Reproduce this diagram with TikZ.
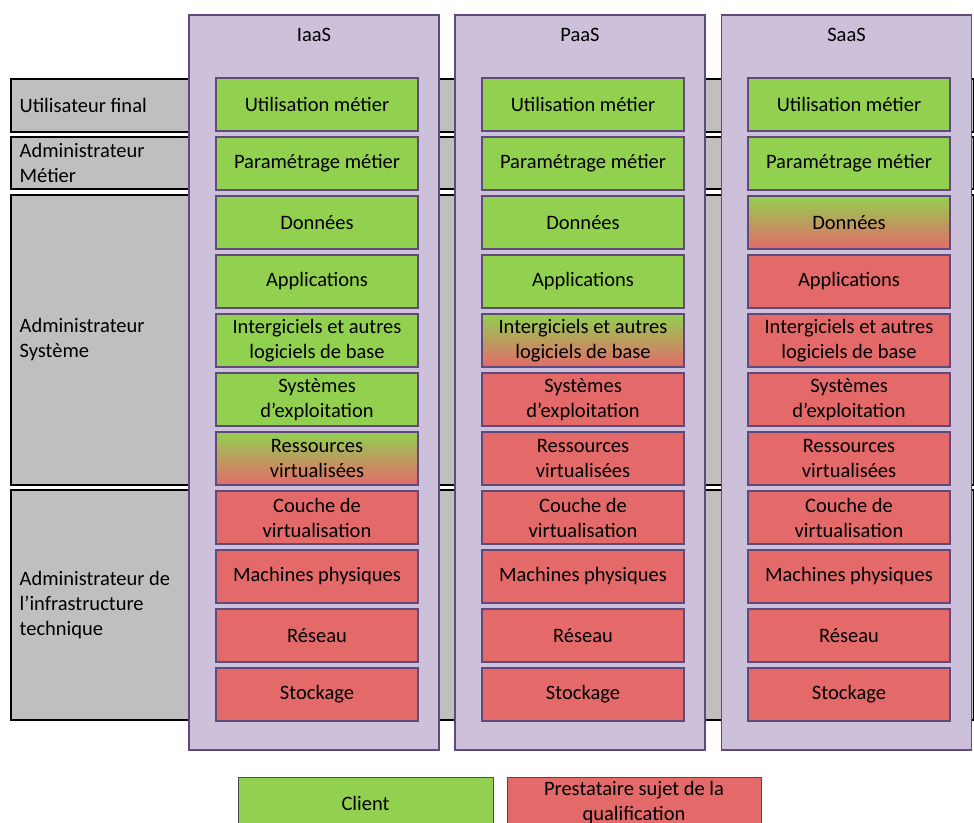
\documentclass[tikz,border=0pt]{standalone}
\usepackage{fontspec}
\setmainfont{Carlito}
\usepackage{tikz}
\usetikzlibrary{positioning}
\usepackage{xcolor}

\definecolor{cgreen}{RGB}{146,208,80}
\definecolor{cred}{RGB}{228,106,106}
\definecolor{lavender}{RGB}{204,192,218}
\definecolor{plum}{RGB}{96,74,123}
\definecolor{bandgrey}{RGB}{191,191,191}

\tikzset{
	txt/.style={font=\fontsize{20.5}{25}\selectfont},
	role/.style={draw=black, line width=1.8pt, fill=bandgrey, minimum width=963pt},
	rolelabel/.style={txt, anchor=west, align=left},
	offer/.style={draw=plum, line width=1.2pt, fill=lavender, minimum width=250pt, minimum height=735pt},
	layer/.style={txt, draw=plum, line width=1.5pt, minimum width=202pt, minimum height=53pt, align=center, inner sep=1pt},
	cli/.style={layer, fill=cgreen},
	pre/.style={layer, fill=cred},
	mix/.style={layer, top color=cgreen, bottom color=cred},
}

\begin{document}
\begin{tikzpicture}[x=1pt, y=-1pt, node distance=4.5pt]
	\useasboundingbox (0,0) rectangle (974,822);
	
	% roles
	\node[role, minimum height=53pt](r_user) at (492.5,105.5){};
	\node[role, minimum height=52pt](r_metier) at (492.5,163){};
	\node[role, minimum height=290pt](r_sys) at (492.5,340){};
	\node[role, minimum height=230pt](r_infra) at (492.5,605){};
	\node[rolelabel] at ([xshift=6pt]r_user.west){Utilisateur final};
	\node[rolelabel] at ([xshift=6pt]r_metier.west){Administrateur\\Métier};
	\node[rolelabel] at ([xshift=6pt]r_sys.west){Administrateur\\Système};
	\node[rolelabel] at ([xshift=6pt]r_infra.west){Administrateur de\\l’infrastructure\\technique};
	
	% offers
	\node[offer](iaas) at (314,382.5){};
	\node[offer](paas) at (580,382.5){};
	\node[offer](saas) at (846.5,382.5){};
	\node[txt] at ([yshift=-21pt]iaas.north){IaaS};
	\node[txt] at ([yshift=-21pt]paas.north){PaaS};
	\node[txt] at ([yshift=-21pt]saas.north){SaaS};
	
	% IaaS
	\node[cli](i_use) at (317,104.5){Utilisation métier};
	\node[cli, below = of i_use](i_param){Paramétrage métier};
	\node[cli, below = of i_param](i_data){Données};
	\node[cli, below = of i_data](i_app){Applications};
	\node[cli, below = of i_app](i_mid){Intergiciels et autres\\logiciels de base};
	\node[cli, below = of i_mid](i_os){Systèmes\\d’exploitation};
	\node[mix, below = of i_os](i_res){Ressources\\virtualisées};
	\node[pre, below = of i_res](i_virt){Couche de\\virtualisation};
	\node[pre, below = of i_virt](i_mach){Machines physiques};
	\node[pre, below = of i_mach](i_net){Réseau};
	\node[pre, below = of i_net](i_stor){Stockage};
	
	% PaaS
	\node[cli](p_use) at (583,104.5){Utilisation métier};
	\node[cli, below = of p_use](p_param){Paramétrage métier};
	\node[cli, below = of p_param](p_data){Données};
	\node[cli, below = of p_data](p_app){Applications};
	\node[mix, below = of p_app](p_mid){Intergiciels et autres\\logiciels de base};
	\node[pre, below = of p_mid](p_os){Systèmes\\d’exploitation};
	\node[pre, below = of p_os](p_res){Ressources\\virtualisées};
	\node[pre, below = of p_res](p_virt){Couche de\\virtualisation};
	\node[pre, below = of p_virt](p_mach){Machines physiques};
	\node[pre, below = of p_mach](p_net){Réseau};
	\node[pre, below = of p_net](p_stor){Stockage};
	
	% SaaS
	\node[cli](s_use) at (849,104.5){Utilisation métier};
	\node[cli, below = of s_use](s_param){Paramétrage métier};
	\node[mix, below = of s_param](s_data){Données};
	\node[pre, below = of s_data](s_app){Applications};
	\node[pre, below = of s_app](s_mid){Intergiciels et autres\\logiciels de base};
	\node[pre, below = of s_mid](s_os){Systèmes\\d’exploitation};
	\node[pre, below = of s_os](s_res){Ressources\\virtualisées};
	\node[pre, below = of s_res](s_virt){Couche de\\virtualisation};
	\node[pre, below = of s_virt](s_mach){Machines physiques};
	\node[pre, below = of s_mach](s_net){Réseau};
	\node[pre, below = of s_net](s_stor){Stockage};
	
	% legend
	\node[cli, draw=black!70, line width=1pt, minimum width=255pt, minimum height=52pt](leg_cli) at (365.5,803){Client};
	\node[pre, draw=black!70, line width=1pt, minimum width=254pt, minimum height=52pt, right = 13pt of leg_cli](leg_pre){Prestataire sujet de la\\qualification};
\end{tikzpicture}
\end{document}
